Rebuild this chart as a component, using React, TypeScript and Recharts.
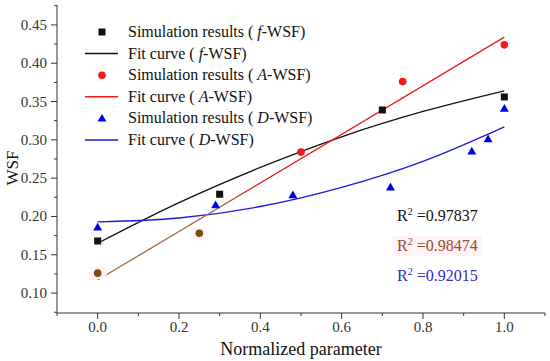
import { ComposedChart, XAxis, YAxis, Scatter, Line, Cell } from "recharts";

// simulation results
const fX = [0, 0.3, 0.7, 1.0];
const fY = [0.168, 0.229, 0.339, 0.356];
const aX = [0, 0.25, 0.5, 0.75, 1.0];
const aY = [0.126, 0.178, 0.284, 0.376, 0.424];
const dX = [0, 0.29, 0.48, 0.72, 0.92, 0.96, 1.0];
const dY = [0.186, 0.215, 0.228, 0.238, 0.285, 0.301, 0.341];

// fit curves
const fitX = [0, 0.2, 0.4, 0.6, 0.8, 1.0];
const fFit = [0.165, 0.218, 0.264, 0.304, 0.337, 0.364];
const dFit = [0.193, 0.198, 0.213, 0.238, 0.272, 0.317];
const aFitX = [0, 1.0];
const aFit = [0.117, 0.434];

const r2Labels = ["0.97837", "0.98474", "0.92015"];

const xMajor = [0, 0.2, 0.4, 0.6, 0.8, 1.0];
const xAll = [-0.1, 0, 0.1, 0.2, 0.3, 0.4, 0.5, 0.6, 0.7, 0.8, 0.9, 1.0, 1.1];
const yAll = [
  0.075, 0.1, 0.125, 0.15, 0.175, 0.2, 0.225, 0.25, 0.275, 0.3, 0.325, 0.35,
  0.375, 0.4, 0.425, 0.45, 0.475,
];

const toPts = (xs: number[], ys: number[]) => xs.map((x, i) => ({ x, y: ys[i] }));

const AXIS = "#333";
const FONT = "Liberation Serif, Times New Roman, serif";
const BLACK = "#111";
const RED = "#f01818";
const BROWN = "#7d4a14";
const BLUE = "#1c1cd8";
const aColors = [BROWN, BROWN, RED, RED, RED];

const isOn = (v: number, step: number) => Math.abs(v / step - Math.round(v / step)) < 1e-6;

const BottomTick = ({ x, y, payload }: any) => {
  const major = xMajor.some((m) => Math.abs(m - payload.value) < 1e-6);
  return (
    <g>
      <line x1={x} x2={x} y1={y} y2={y + (major ? 6 : 3)} stroke={AXIS} />
      {major && (
        <text x={x} y={y + 19} textAnchor="middle" fontSize={15} style={{ fontFamily: FONT }} fill="#333">
          {payload.value.toFixed(1)}
        </text>
      )}
    </g>
  );
};

const TopTick = ({ x, y }: any) => <line x1={x} x2={x} y1={y} y2={y + 5} stroke={AXIS} />;

const LeftTick = ({ x, y, payload }: any) => {
  const major = isOn(payload.value, 0.05);
  return (
    <g>
      <line x1={x} x2={x - (major ? 6 : 3)} y1={y} y2={y} stroke={AXIS} />
      {major && (
        <text x={x - 10} y={y + 5} textAnchor="end" fontSize={15} style={{ fontFamily: FONT }} fill="#333">
          {payload.value.toFixed(2)}
        </text>
      )}
    </g>
  );
};

const RightTick = ({ x, y }: any) => <line x1={x} x2={x - 5} y1={y} y2={y} stroke={AXIS} />;

const Square = (p: any) => (
  <rect x={p.cx - 3.5} y={p.cy - 3.5} width={7} height={7} fill={BLACK} />
);
const Dot = (p: any) => (
  <g>
    {p.fill === BROWN && (
      <rect x={p.cx - 9} y={p.cy - 6} width={18} height={12} fill="#fef4f8" />
    )}
    <circle cx={p.cx} cy={p.cy} r={3.8} fill={p.fill} />
  </g>
);
const Tri = (p: any) => (
  <path
    d={`M${p.cx},${p.cy - 4.5}L${p.cx + 4.5},${p.cy + 3.2}L${p.cx - 4.5},${p.cy + 3.2}Z`}
    fill="#0000ee"
  />
);

const legendRows = [
  { kind: "square", label: "f", fit: false, color: BLACK },
  { kind: "line", label: "f", fit: true, color: BLACK },
  { kind: "circle", label: "A", fit: false, color: RED },
  { kind: "line", label: "A", fit: true, color: RED },
  { kind: "tri", label: "D", fit: false, color: "#0000ee" },
  { kind: "line", label: "D", fit: true, color: BLUE },
];

export default function App() {
  return (
    <div style={{ position: "absolute", left: 0, top: 0, width: 550, height: 361, background: "#fff" }}>
      <ComposedChart width={550} height={361} margin={{ top: 5, right: 5, left: 0, bottom: 0 }}>
        <defs>
          <linearGradient id="aGrad" x1="0" y1="0" x2="1" y2="0">
            <stop offset="0%" stopColor="#a06a44" />
            <stop offset="30%" stopColor="#a06a44" />
            <stop offset="40%" stopColor={RED} />
            <stop offset="100%" stopColor={RED} />
          </linearGradient>
        </defs>
        <XAxis
          dataKey="x"
          type="number"
          domain={[-0.1, 1.1]}
          ticks={xAll}
          interval={0}
          height={48}
          tickSize={0}
          tickMargin={0}
          tick={<BottomTick />}
          axisLine={{ stroke: AXIS }}
          allowDataOverflow
          label={{
            value: "Normalized parameter",
            position: "insideBottom",
            offset: 6,
            style: { fontSize: 18, fontFamily: FONT, fill: "#111" },
          }}
        />
        <XAxis
          xAxisId="top"
          orientation="top"
          type="number"
          domain={[-0.1, 1.1]}
          ticks={xAll}
          interval={0}
          height={0}
          tickSize={0}
          tickMargin={0}
          tick={<TopTick />}
          axisLine={{ stroke: AXIS }}
          allowDataOverflow
        />
        <YAxis
          dataKey="y"
          type="number"
          domain={[0.074, 0.476]}
          ticks={yAll}
          interval={0}
          width={57}
          tickSize={0}
          tickMargin={0}
          tick={<LeftTick />}
          axisLine={{ stroke: AXIS }}
          allowDataOverflow
        />
        <YAxis
          yAxisId="right"
          orientation="right"
          type="number"
          domain={[0.074, 0.476]}
          ticks={yAll}
          interval={0}
          width={0}
          tickSize={0}
          tickMargin={0}
          tick={<RightTick />}
          axisLine={{ stroke: AXIS }}
          allowDataOverflow
        />
        <Line data={toPts(fitX, fFit)} dataKey="y" type="monotone" stroke={BLACK} strokeWidth={1.3} dot={false} isAnimationActive={false} />
        <Line data={toPts(fitX, dFit)} dataKey="y" type="monotone" stroke={BLUE} strokeWidth={1.3} dot={false} isAnimationActive={false} />
        <Line data={toPts(aFitX, aFit)} dataKey="y" type="linear" stroke="url(#aGrad)" strokeWidth={1.3} dot={false} isAnimationActive={false} />
        <Scatter data={toPts(aX, aY)} shape={<Dot />} isAnimationActive={false}>
          {aX.map((_, i) => (
            <Cell key={i} fill={aColors[i]} />
          ))}
        </Scatter>
        <Scatter data={toPts(fX, fY)} shape={<Square />} isAnimationActive={false} />
        <Scatter data={toPts(dX, dY)} shape={<Tri />} isAnimationActive={false} />
      </ComposedChart>

      <svg
        width={550}
        height={361}
        style={{ position: "absolute", left: 0, top: 0, pointerEvents: "none", fontFamily: FONT }}
      >
        <text transform="translate(18,168) rotate(-90)" textAnchor="middle" fontSize={17} fill="#111">
          WSF
        </text>

        {legendRows.map((r, i) => {
          const cy = 32 + i * 21.6;
          return (
            <g key={i}>
              {r.kind === "square" && <rect x={98.5} y={cy - 3.5} width={7} height={7} fill={r.color} />}
              {r.kind === "circle" && <circle cx={102} cy={cy} r={3.8} fill={r.color} />}
              {r.kind === "tri" && (
                <path d={`M102,${cy - 4.5}L106.5,${cy + 3.2}L97.5,${cy + 3.2}Z`} fill={r.color} />
              )}
              {r.kind === "line" && (
                <line x1={85} x2={118} y1={cy} y2={cy} stroke={r.color} strokeWidth={1.5} />
              )}
              <text x={128} y={cy + 5} fontSize={16} fill="#111">
                {r.fit ? "Fit curve ( " : "Simulation results ( "}
                <tspan fontStyle="italic">{r.label}</tspan>
                -WSF)
              </text>
            </g>
          );
        })}

        <rect x={392} y={236} width={90} height={20} fill="#fef3f7" />
        {r2Labels.map((v, i) => (
          <text
            key={i}
            x={397}
            y={221 + i * 30}
            fontSize={16}
            fill={["#111", "#9a4a2a", "#2a2ad0"][i]}
          >
            R
            <tspan fontSize={10} dy={-6}>
              2
            </tspan>
            <tspan dy={6}> =</tspan>
            {v}
          </text>
        ))}
      </svg>
    </div>
  );
}
